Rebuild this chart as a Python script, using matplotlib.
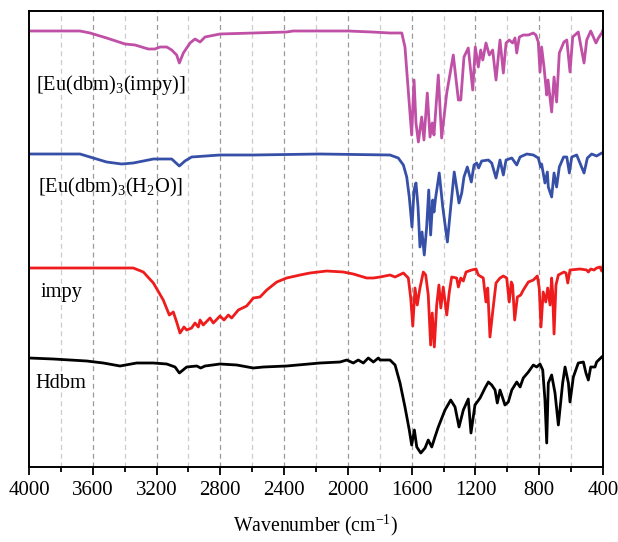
import matplotlib
matplotlib.use('Agg')
import matplotlib.pyplot as plt
import numpy as np

plt.rcParams['font.family'] = ['Liberation Serif', 'DejaVu Serif']
plt.rcParams['mathtext.fontset'] = 'custom'
plt.rcParams['mathtext.rm'] = 'Liberation Serif'
plt.rcParams['mathtext.it'] = 'Liberation Serif:italic'

# IR spectra, wavenumber (cm-1) and offset transmittance (a.u.)
complex_wn = [4000, 3680, 3617, 3513, 3398, 3335, 3252, 3210, 3178, 3136, 3105, 3074, 3057, 3032,
              2990, 2959, 2927, 2896, 2802, 2593, 2384, 2344, 2175, 2000, 1850, 1736, 1662, 1642,
              1623, 1600, 1585, 1573, 1558, 1537, 1523, 1502, 1485, 1471, 1460, 1433, 1412, 1380,
              1339, 1307, 1292, 1272, 1245, 1217, 1201, 1182, 1167, 1154, 1134, 1113, 1092, 1071,
              1046, 1025, 1008, 988, 967, 952, 941, 925, 900, 868, 837, 821, 806, 795, 785, 770,
              753, 745, 722, 707, 691, 674, 645, 627, 607, 590, 555, 519, 502, 477, 444, 429, 408, 400]
complex_t = [436, 436, 434, 429, 423, 422, 418, 418, 420, 420, 417, 412, 404, 414,
             424, 428, 425, 430, 433, 434, 435, 436, 436, 436, 435, 434, 434, 420,
             380, 332, 387, 344, 325, 350, 327, 374, 330, 344, 332, 392, 329, 374,
             412, 367, 367, 410, 419, 377, 420, 400, 417, 407, 424, 412, 417, 387,
             427, 394, 424, 427, 424, 429, 414, 430, 432, 432, 434, 432, 425, 395, 420, 400,
             372, 387, 355, 390, 365, 414, 425, 427, 395, 430, 435, 404, 427, 436, 424, 429, 434, 437]

hydrate_wn = [4000, 3680, 3597, 3513, 3419, 3346, 3220, 3105, 3057, 3022, 2980, 2802, 2593, 2175,
              1736, 1684, 1652, 1631, 1615, 1598, 1585, 1573, 1560, 1548, 1535, 1521, 1506, 1493,
              1481, 1468, 1460, 1450, 1427, 1405, 1376, 1355, 1333, 1303, 1286, 1272, 1251, 1226,
              1209, 1192, 1180, 1161, 1119, 1098, 1071, 1046, 1025, 1008, 972, 941, 920, 878, 837,
              806, 791, 785, 764, 749, 743, 722, 707, 691, 674, 647, 627, 611, 596, 565, 519, 498,
              471, 440, 408, 400]
hydrate_t = [313, 313, 309, 305, 303, 304, 308, 308, 301, 306, 310, 312, 312, 313,
             312, 309, 302, 290, 270, 240, 277, 284, 260, 220, 235, 212, 240, 277,
             232, 267, 255, 269, 294, 260, 225, 260, 295, 264, 274, 290, 300, 285,
             302, 304, 299, 306, 307, 304, 289, 307, 292, 307, 309, 302, 310, 313, 312,
             309, 300, 303, 284, 295, 280, 270, 294, 280, 300, 310, 310, 294, 310, 312, 294, 309,
             313, 311, 314, 314]

impy_wn = [4000, 3346, 3283, 3220, 3158, 3120, 3095, 3074, 3053, 3028, 3011, 2980, 2959, 2938,
           2927, 2907, 2865, 2844, 2802, 2777, 2750, 2729, 2687, 2635, 2593, 2551, 2509, 2446,
           2384, 2300, 2238, 2133, 2029, 1966, 1882, 1840, 1798, 1736, 1704, 1652, 1621, 1606,
           1593, 1579, 1565, 1548, 1527, 1512, 1496, 1481, 1471, 1458, 1443, 1429, 1417, 1402,
           1380, 1364, 1349, 1318, 1307, 1292, 1276, 1259, 1224, 1196, 1182, 1151, 1134, 1123,
           1109, 1092, 1071, 1046, 1025, 1004, 988, 975, 967, 954, 937, 916, 900, 868, 837, 812,
           800, 789, 775, 759, 747, 732, 722, 716, 707, 695, 680, 645, 632, 621, 607, 544, 502,
           492, 477, 456, 440, 419, 408, 400]
impy_t = [199, 199, 195, 184, 167, 152, 155, 145, 134, 140, 137, 139, 144, 140,
          147, 142, 149, 144, 151, 147, 152, 149, 157, 161, 169, 170, 177, 185,
          189, 192, 194, 196, 195, 193, 189, 189, 190, 192, 190, 194, 189, 169,
          141, 179, 162, 179, 195, 192, 172, 122, 154, 120, 162, 182, 159, 180,
          152, 175, 190, 189, 180, 189, 186, 195, 197, 198, 192, 189, 165, 179,
          130, 155, 184, 189, 191, 189, 165, 185, 182, 147, 170, 172, 177, 185, 187, 191,
          179, 140, 175, 165, 179, 162, 189, 175, 133, 182, 192, 195, 194, 184, 197, 198, 197,
          195, 198, 197, 199, 200, 196, 201]

hdbm_wn = [4000, 3848, 3638, 3534, 3429, 3325, 3220, 3136, 3084, 3057, 3011, 2948, 2923, 2896,
           2802, 2697, 2593, 2530, 2384, 2175, 2049, 2007, 1966, 1935, 1903, 1872, 1840, 1809,
           1798, 1736, 1704, 1673, 1642, 1615, 1600, 1583, 1568, 1543, 1516, 1496, 1474, 1454,
           1433, 1391, 1355, 1328, 1303, 1276, 1245, 1228, 1203, 1171, 1140, 1119, 1098, 1077,
           1063, 1046, 1029, 1015, 994, 972, 941, 920, 900, 868, 837, 816, 795, 778, 764, 753,
           743, 722, 701, 680, 653, 638, 617, 607, 586, 555, 523, 507, 492, 477, 450, 440, 408, 400]
hdbm_t = [109, 108, 106, 104, 101, 104, 104, 103, 100, 94, 100, 101, 99, 101,
          103, 102, 99, 100, 101, 104, 105, 107, 104, 107, 104, 109, 105, 109,
          107, 107, 102, 84, 60, 37, 22, 37, 20, 14, 19, 27, 20, 30,
          40, 57, 67, 60, 40, 57, 68, 34, 62, 69, 79, 85, 82, 77,
          64, 77, 69, 62, 65, 77, 85, 80, 89, 95, 102, 100, 103, 97, 67, 24,
          84, 92, 74, 42, 84, 100, 84, 65, 90, 104, 105, 94, 87, 100, 100, 105, 110, 111]

spectra = [
    (complex_wn, complex_t, '#C04FA6', '[Eu(dbm)$_3$(impy)]', 3955, 382),
    (hydrate_wn, hydrate_t, '#3650A8', '[Eu(dbm)$_3$(H$_2$O)]', 3945, 280),
    (impy_wn, impy_t, '#EE1C1C', 'impy', 3925, 174),
    (hdbm_wn, hdbm_t, '#000000', 'Hdbm', 3960, 84),
]

fig = plt.figure(figsize=(6.18, 5.42), dpi=100)
ax = fig.add_axes([29 / 618, 75 / 542, 574 / 618, 456 / 542])

for g in range(600, 4000, 200):
    if g % 400 == 0:
        ax.axvline(g, color='#9a9a9a', lw=0.9, ls=(0, (4, 3)), zorder=0)
    else:
        ax.axvline(g, color='#cccccc', lw=0.9, ls=(0, (4, 3)), zorder=0)

for wn, t, color, label, lx, ly in spectra:
    ax.plot(wn, t, color=color, lw=2.0, solid_joinstyle='round')
    ax.text(lx, ly, label, fontsize=14.7, va='center', ha='left')

ax.set_xlim(4000, 400)
ax.set_ylim(0, 456)
ax.set_xticks(np.arange(4000, 399, -400))
ax.set_xticks(np.arange(3800, 400, -400), minor=True)
ax.set_yticks([])
ax.tick_params(axis='x', which='major', direction='out', length=6, width=1.3, labelsize=15, pad=4)
ax.tick_params(axis='x', which='minor', direction='out', length=3.5, width=1.3)
for s in ax.spines.values():
    s.set_linewidth(1.4)

ax.set_xlabel('Wavenumber (cm$^{-1}$)', fontsize=14.2, labelpad=9)

fig.savefig('out.png', dpi=100)
